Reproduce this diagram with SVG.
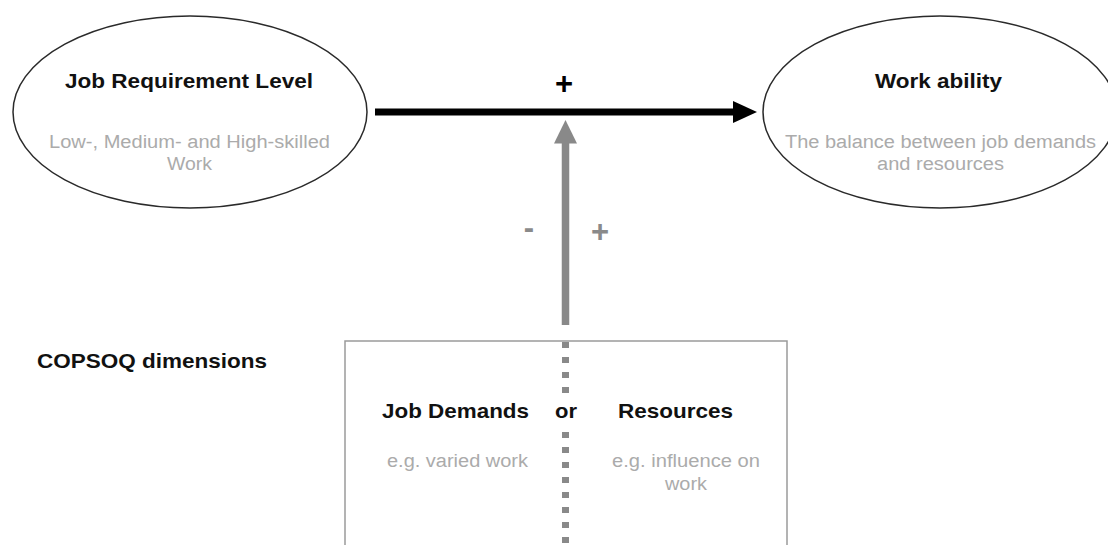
<svg xmlns="http://www.w3.org/2000/svg" width="1108" height="545" viewBox="0 0 1108 545">
  <style>
    .title { font-family: "Liberation Sans", Arial, sans-serif; font-weight: bold; fill: #111; }
    .sub { font-family: "Liberation Sans", Arial, sans-serif; fill: #ababab; }
    .oval { fill: #fff; stroke: #2a2a2a; stroke-width: 1.5; }
    .sign { font-family: "Liberation Sans", Arial, sans-serif; font-weight: bold; font-size: 31px; text-anchor: middle; }
  </style>
  <rect width="1108" height="545" fill="#fff"/>

  <!-- Job requirement level -->
  <g id="job-requirement-level">
    <ellipse class="oval" cx="190" cy="112" rx="177" ry="96"/>
    <text class="title" x="65" y="88" font-size="20.5" textLength="248" lengthAdjust="spacingAndGlyphs">Job Requirement Level</text>
    <text class="sub" x="49" y="148" font-size="18" textLength="281" lengthAdjust="spacingAndGlyphs">Low-, Medium- and High-skilled</text>
    <text class="sub" x="167" y="170" font-size="18" textLength="45" lengthAdjust="spacingAndGlyphs">Work</text>
  </g>

  <!-- Work ability -->
  <g id="work-ability">
    <ellipse class="oval" cx="940" cy="112" rx="177" ry="96"/>
    <text class="title" x="875" y="88" font-size="20.5" textLength="127" lengthAdjust="spacingAndGlyphs">Work ability</text>
    <text class="sub" x="785" y="148" font-size="18" textLength="311" lengthAdjust="spacingAndGlyphs">The balance between job demands</text>
    <text class="sub" x="877" y="170" font-size="18" textLength="127" lengthAdjust="spacingAndGlyphs">and resources</text>
  </g>

  <!-- COPSOQ dimensions -->
  <g id="copsoq-dimensions">
    <text class="title" x="37" y="368" font-size="21" textLength="230" lengthAdjust="spacingAndGlyphs">COPSOQ dimensions</text>
  </g>

  <!-- Demands / resources box -->
  <g id="dimensions-box">
    <rect x="345" y="341" width="442" height="240" fill="#fff" stroke="#9a9a9a" stroke-width="1.5"/>
  </g>

  <!-- Connectors -->
  <g id="connectors">
    <!-- main effect -->
    <line x1="375" y1="112" x2="736" y2="112" stroke="#000" stroke-width="7"/>
    <polygon points="733,101 757,112 733,123" fill="#000"/>
    <!-- moderation -->
    <line x1="565.5" y1="325" x2="565.5" y2="140" stroke="#898989" stroke-width="7.5"/>
    <polygon points="554,143.5 565.5,120 577,143.5" fill="#898989"/>
    <!-- divider inside box -->
    <line x1="565.5" y1="342" x2="565.5" y2="545" stroke="#898989" stroke-width="7" stroke-dasharray="6 9"/>
  </g>

  <!-- Box contents -->
  <g id="job-demands">
    <text class="title" x="382" y="418" font-size="20.5" textLength="147" lengthAdjust="spacingAndGlyphs">Job Demands</text>
    <text class="sub" x="387" y="467" font-size="18" textLength="141" lengthAdjust="spacingAndGlyphs">e.g. varied work</text>
  </g>
  <g id="or-label">
    <rect x="552" y="395" width="28" height="30" fill="#fff"/>
    <text class="title" x="555" y="418" font-size="20.5" textLength="22" lengthAdjust="spacingAndGlyphs">or</text>
  </g>
  <g id="resources">
    <text class="title" x="618" y="418" font-size="20.5" textLength="115" lengthAdjust="spacingAndGlyphs">Resources</text>
    <text class="sub" x="612" y="467" font-size="18" textLength="148" lengthAdjust="spacingAndGlyphs">e.g. influence on</text>
    <text class="sub" x="665" y="490" font-size="18" textLength="42" lengthAdjust="spacingAndGlyphs">work</text>
  </g>

  <!-- Signs -->
  <g id="signs">
    <text class="sign" x="564" y="94" fill="#000">+</text>
    <text class="sign" x="600" y="242" fill="#8a8a8a">+</text>
    <text class="sign" x="529" y="237.5" fill="#8a8a8a">-</text>
  </g>
</svg>
